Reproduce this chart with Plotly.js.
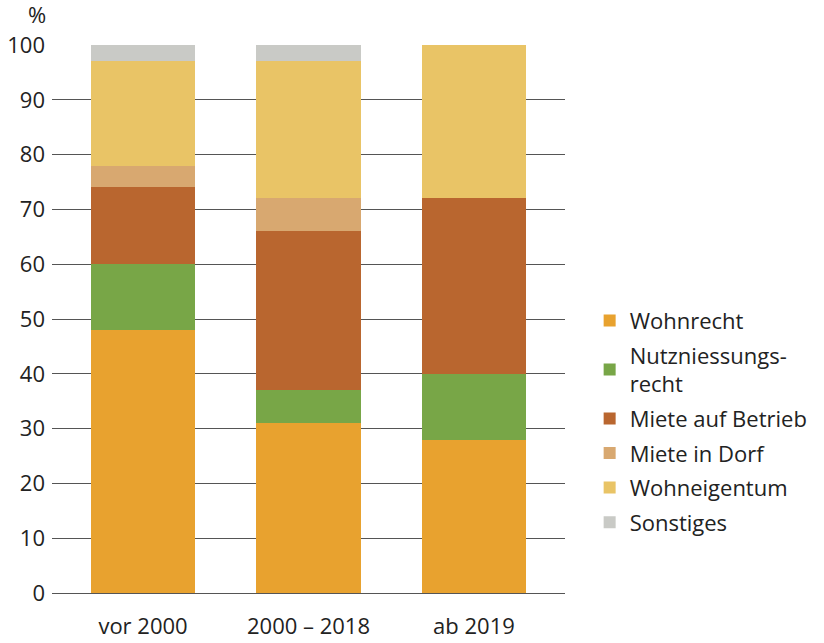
<!DOCTYPE html>
<html>
<head>
<meta charset="utf-8">
<script src="https://cdn.plot.ly/plotly-3.0.1.min.js"></script>
<style>html,body{margin:0;padding:0;background:#fff;}#chart{width:824px;height:643px;}</style>
</head>
<body>
<div id="chart"></div>
<script>
const categories = ["vor 2000", "2000 – 2018", "ab 2019"];
const seriesNames = ["Wohnrecht", "Nutzniessungs-<br>recht", "Miete auf Betrieb", "Miete in Dorf", "Wohneigentum", "Sonstiges"];
const wohnrecht = [48, 31, 28];
const nutzniessungsrecht = [12, 6, 12];
const mieteBetrieb = [14, 29, 32];
const mieteDorf = [4, 6, 0];
const wohneigentum = [19, 25, 28];
const sonstiges = [3, 3, 0];
const yTicks = [0, 10, 20, 30, 40, 50, 60, 70, 80, 90, 100];

const seriesValues = [wohnrecht, nutzniessungsrecht, mieteBetrieb, mieteDorf, wohneigentum, sonstiges];
const colors = ["#E8A22F", "#78A647", "#B9662F", "#D8A870", "#E9C466", "#C9CAC6"];

const font = "'Open Sans', 'Noto Sans', sans-serif";
const fs = 22;

const traces = seriesValues.map((vals, i) => ({
  type: "bar",
  x: categories,
  y: vals,
  name: seriesNames[i],
  legendgroup: "g" + i,
  marker: {color: colors[i], line: {width: 0}},
  hoverinfo: "x+y+name"
}));

const layout = {
  width: 824,
  height: 643,
  barmode: "stack",
  bargap: 0.37,
  margin: {l: 52, r: 258, t: 45, b: 50},
  paper_bgcolor: "#fff",
  plot_bgcolor: "#fff",
  font: {family: font, size: fs, color: "#222"},
  showlegend: true,
  legend: {
    x: 1.046, xanchor: "left",
    y: 0.535, yanchor: "top",
    traceorder: "grouped",
    tracegroupgap: 3,
    font: {family: font, size: fs, color: "#222"},
    itemwidth: 30,
    bgcolor: "rgba(0,0,0,0)"
  },
  xaxis: {
    type: "category",
    range: [-0.55, 2.55],
    showgrid: false,
    zeroline: false,
    showline: false,
    ticks: "",
    automargin: false,
    ticklabelstandoff: 18,
    tickfont: {family: font, size: fs, color: "#222"},
    fixedrange: true
  },
  yaxis: {
    range: [0, 100],
    tickvals: yTicks,
    ticktext: yTicks.map(String),
    showgrid: true,
    gridcolor: "#555",
    gridwidth: 1,
    zeroline: true,
    zerolinecolor: "#555",
    zerolinewidth: 1,
    showline: false,
    ticks: "",
    automargin: false,
    ticklabelstandoff: 6,
    tickfont: {family: font, size: fs, color: "#222"},
    fixedrange: true
  },
  annotations: [{
    text: "%",
    xref: "paper", yref: "paper",
    x: -0.03, y: 1, xanchor: "center", yanchor: "bottom",
    yshift: 14,
    showarrow: false,
    font: {family: font, size: fs, color: "#222"}
  }]
};

Plotly.newPlot("chart", traces, layout, {displayModeBar: false, staticPlot: true});
</script>
</body>
</html>
